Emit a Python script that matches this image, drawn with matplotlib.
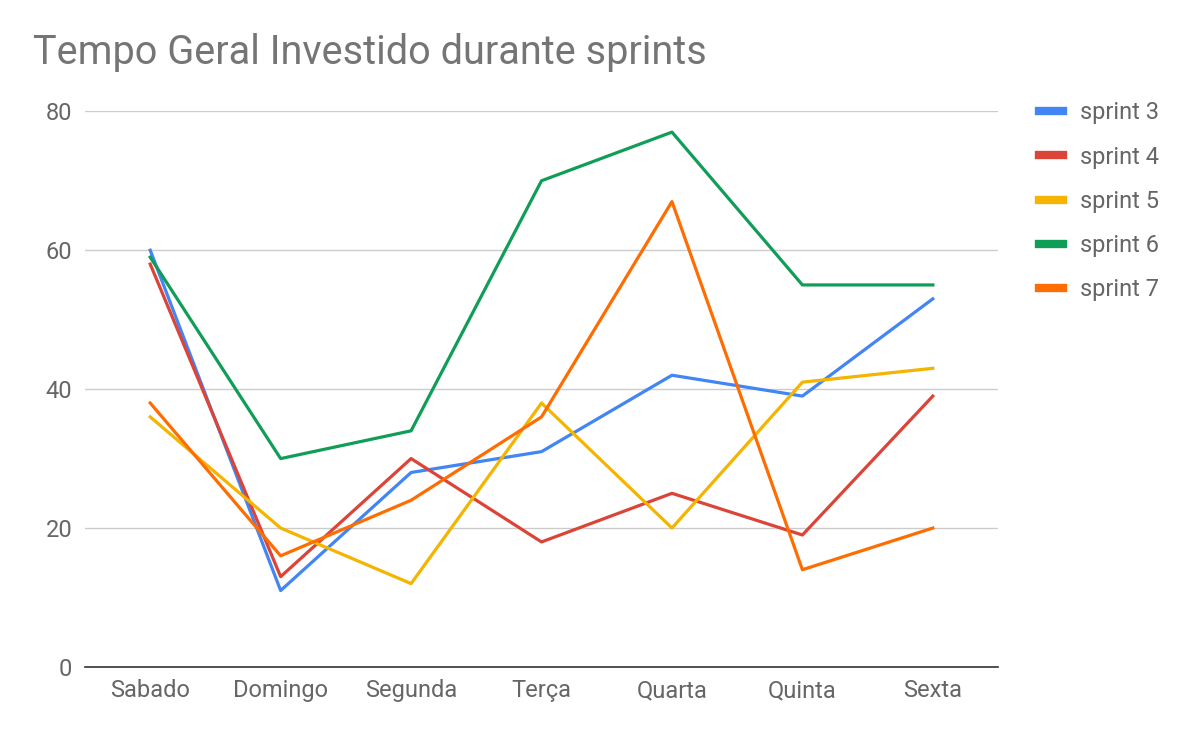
import matplotlib
matplotlib.use("Agg")
import matplotlib.pyplot as plt

# dias da sprint e horas por sprint
dias = ["Sabado", "Domingo", "Segunda", "Terça", "Quarta", "Quinta", "Sexta"]
sprint_3 = [60, 11, 28, 31, 42, 39, 53]
sprint_4 = [58, 13, 30, 18, 25, 19, 39]
sprint_5 = [36, 20, 12, 38, 20, 41, 43]
sprint_6 = [59, 30, 34, 70, 77, 55, 55]
sprint_7 = [38, 16, 24, 36, 67, 14, 20]

series = [
    ("sprint 3", sprint_3, "#4285F4"),
    ("sprint 4", sprint_4, "#DB4437"),
    ("sprint 5", sprint_5, "#F4B400"),
    ("sprint 6", sprint_6, "#0F9D58"),
    ("sprint 7", sprint_7, "#FF6D01"),
]

plt.rcParams['font.family'] = ['Roboto', 'DejaVu Sans']

fig = plt.figure(figsize=(11.92, 7.36), dpi=100)
ax = fig.add_axes([0.0713, 0.0938, 0.766, 0.755])

x = list(range(len(dias)))
for nome, valores, cor in series:
    ax.plot(x, valores, color=cor, linewidth=2.3, label=nome, zorder=3)

ax.set_xlim(-0.5, len(dias) - 0.5)
ax.set_ylim(0, 80)
ax.set_yticks([0, 20, 40, 60, 80])
ax.set_xticks(x)
ax.set_xticklabels(dias)

ax.grid(axis='y', color='#cccccc', linewidth=1)
ax.set_axisbelow(True)
for s in ["top", "right", "left"]:
    ax.spines[s].set_visible(False)
ax.spines["bottom"].set_color("#333333")
ax.spines["bottom"].set_linewidth(1.2)
ax.spines["bottom"].set_zorder(4)
ax.tick_params(axis='both', length=0, labelsize=17, colors='#666666')
ax.tick_params(axis='x', pad=9)
ax.tick_params(axis='y', pad=9)

fig.text(0.028, 0.929, "Tempo Geral Investido durante sprints", fontsize=28.5,
         color='#757575', va='center', ha='left')

ax.legend(loc='upper left', bbox_to_anchor=(1.035, 1.035), frameon=False,
          fontsize=17, labelcolor='#666666', handlelength=1.0,
          handletextpad=0.72, labelspacing=0.9, borderaxespad=0)
leg = ax.get_legend()
for h in leg.legend_handles:
    h.set_linewidth(6)

fig.savefig("out.png", dpi=100)
